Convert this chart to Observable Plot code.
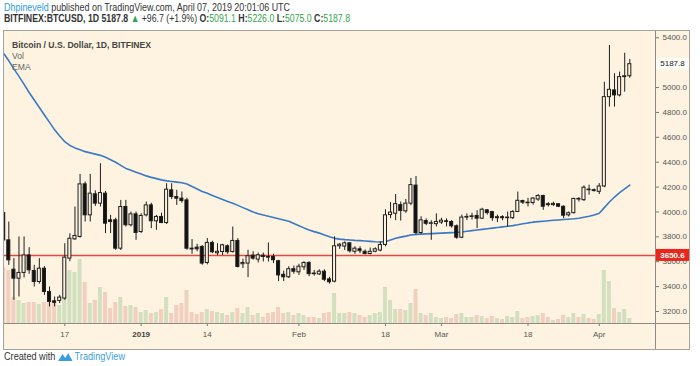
<!DOCTYPE html>
<html><head><meta charset="utf-8">
<script src="https://cdn.jsdelivr.net/npm/d3@7"></script>
<script src="https://cdn.jsdelivr.net/npm/@observablehq/plot@0.6"></script>
<style>
html,body{margin:0;padding:0;background:#fff;}
body{width:700px;height:366px;overflow:hidden;position:relative;font-family:"Liberation Sans",Arial,sans-serif;}
.hdr{position:absolute;left:4px;white-space:nowrap;color:#333;font-size:11px;line-height:12px;transform-origin:0 50%;}
#hdr1{top:1px;}
#hdr2{top:12px;}
.g{color:#35a44c;}
.blue{color:#2a9be0;}
#box{position:absolute;left:3px;top:30px;width:685px;height:318px;border:1px solid #a8a39a;background:#fdf3e0;overflow:hidden;}
#box svg{position:absolute;left:0;top:0;}
.sepv{position:absolute;top:0;width:1px;height:318px;background:#8f8a82;}
.seph{position:absolute;left:0;height:1px;width:685px;background:#8f8a82;}
#legend{position:absolute;left:8px;top:8px;font-size:9.5px;line-height:11px;color:#666;transform-origin:0 0;white-space:nowrap;}
#legend b{color:#444;}
#foot{position:absolute;left:4px;top:351px;font-size:10px;color:#333;white-space:nowrap;display:flex;align-items:center;transform-origin:0 50%;}
#foot .tv{color:#3a9fe0;margin-left:2px;}
</style>
</head><body>
<div id="hdr1" class="hdr"></div>
<div id="hdr2" class="hdr"></div>
<div id="box">
  <div id="legend"></div>
</div>
<div id="foot"><span>Created with</span>
<svg width="16" height="10" viewBox="0 0 16 10" style="margin-left:3px"><path d="M0 9 L5 2 L8 6 L11 1 L16 9 Z" fill="#3a9fe0"/></svg>
<span class="tv">TradingView</span></div>
<script>
// ---------- data (BITFINEX:BTCUSD, 1D, from 2018-12-05 to 2019-04-07) ----------
const startDate = "2018-12-05";
const endDate = "2019-04-07";
const open = [
  3990,3772,3536,3464,3510,3651,3526,3437,3544,3357,3282,3285,3304,3625,3780,3799,4222,3973,4142,4067,4147,3933,3933,3705,4040,3893,3981,
  3839,3973,4053,3925,3960,3911,4174,4120,4107,4093,3705,3713,3719,3590,3751,3668,3678,3724,3678,3767,3580,3585,3649,3617,3649,3638,3638,3604,3495,3475,3540,
  3515,3555,3590,3505,3498,3520,3458,3440,3724,3722,3748,3680,3700,3680,3662,3680,3690,3735,3975,3986,4055,4005,4067,4212,3831,3927,3905,3902,
  3915,3925,3920,3885,3793,3955,3960,3968,3946,4013,3999,3950,3958,3950,3950,4000,4088,4075,4072,4100,4128,4062,4055,4062,4042,3973,3990,4105,4095,4180,4175,
  4162,4205,4923,4977,4937,5084,5091.1];
const high = [
  4000,3919,3625,3799,3799,3713,3571,3625,3560,3397,3317,3330,3745,3825,4040,4302,4240,4302,4170,4388,4165,3973,3950,4093,4093,4000,4000,
  3986,4080,4070,3973,3990,4227,4227,4174,4160,4110,3778,3740,3730,3786,3765,3745,3740,3735,3879,3785,3620,3692,3680,3670,3670,3751,3660,3612,3525,3560,3565,
  3580,3600,3600,3530,3535,3535,3475,3800,3745,3760,3752,3720,3720,3695,3710,3712,3760,4018,4075,4140,4080,4100,4270,4285,3962,3945,3930,3985,
  3950,3945,3930,3895,3975,3985,3990,4010,4030,4020,4005,3975,3970,3999,4010,4160,4095,4110,4115,4140,4135,4075,4078,4068,4048,4000,4110,4115,4210,4215,4185,
  4228,5043,5338,5111,5124,5276,5226.0];
const low = [
  3760,3571,3290,3317,3470,3500,3397,3420,3330,3237,3237,3264,3290,3600,3772,3790,3919,3919,4045,4040,3826,3826,3692,3690,3879,3880,3772,
  3826,3960,3866,3853,3906,3900,4100,4053,4070,3692,3660,3680,3572,3575,3665,3650,3650,3660,3670,3550,3545,3472,3612,3590,3598,3598,3585,3440,3440,3465,3500,
  3490,3530,3480,3485,3490,3440,3420,3430,3700,3690,3670,3660,3665,3655,3655,3672,3680,3720,3946,3930,3927,3990,4050,3815,3820,3890,3772,3880,
  3900,3880,3870,3780,3785,3930,3935,3866,3940,3975,3925,3915,3930,3879,3940,3995,4060,4040,4055,4085,4013,4040,4045,4035,3946,3960,3985,4080,4085,4135,4160,
  4140,4195,4843,4843,4925,4963,5075.0];
const close = [
  3772,3611,3464,3510,3651,3531,3437,3544,3357,3277,3269,3312,3633,3785,3807,4222,3973,4147,4067,4152,3906,3919,3705,4040,3893,3981,3831,
  3968,4053,3925,3960,3911,4179,4120,4107,4088,3705,3699,3700,3585,3751,3676,3680,3732,3676,3767,3558,3590,3644,3625,3652,3638,3633,3612,3490,3475,3540,3520,
  3560,3590,3500,3500,3520,3455,3435,3724,3737,3748,3684,3705,3685,3662,3680,3700,3735,3973,3995,4063,4008,4067,4216,3831,3933,3905,3910,3920,
  3930,3920,3885,3793,3955,3960,3965,3946,4018,3991,3950,3958,3950,3955,4000,4090,4075,4070,4108,4128,4042,4055,4065,4042,3970,3990,4105,4100,4195,4175,4168,
  4205,4923,4982,4937,5084,5091.1,5187.8];
const volume = [
  56,53,26,23,20,21,21,19,21,23,20,18,26,53,51,64,41,20,23,36,31,15,21,26,17,18,16,
  11,13,10,11,14,26,10,18,20,33,11,9,11,14,12,11,10,8,11,15,10,16,8,10,6,10,11,16,10,11,8,
  10,8,6,6,5,10,11,30,10,10,11,10,8,6,8,10,11,36,23,14,14,13,20,34,10,8,10,6,
  5,6,5,9,10,6,6,8,7,5,7,5,4,7,6,12,5,6,7,8,10,6,3,4,8,6,10,6,9,5,4,
  9,53,42,15,11,14,5];
const ema = [
  5275,5215,5150,5090,5025,4960,4900,4840,4780,4720,4660,4610,4565,4535,4515,4500,4485,4475,4465,4455,4440,4420,4400,4375,4350,4335,4320,
  4305,4290,4278,4268,4258,4250,4245,4240,4235,4225,4205,4185,4165,4150,4133,4117,4100,4085,4070,4053,4035,4018,4000,3985,3975,3965,3955,3945,3935,3925,3908,
  3890,3872,3856,3842,3830,3815,3800,3788,3782,3778,3775,3772,3770,3767,3764,3761,3759,3762,3775,3788,3798,3806,3815,3820,3822,3824,3826,3828,
  3830,3832,3834,3836,3839,3845,3850,3855,3860,3865,3870,3875,3880,3885,3890,3897,3905,3912,3918,3922,3926,3930,3933,3936,3939,3942,3945,3950,3958,3966,3975,
  3990,4035,4080,4120,4155,4185,4215];
const levelPrice = 3650.6;
const tickDates = ["2018-12-17","2019-01-01","2019-01-14","2019-02-01","2019-02-18","2019-03-01","2019-03-18","2019-04-01"];
const tickLabels = ["17","2019","14","Feb","18","Mar","18","Apr"];
// 5200.0 sits under the last-price tag in the reference, so only its tick mark shows
const yTicks = [3200,3400,3600,3800,4000,4200,4400,4600,4800,5000,5200,5400];
const yHiddenLabels = [5200];
const xView = ["2018-12-05T03:43Z","2019-04-12T01:12Z"];
const yView = [3103.5, 5450.6];

// ---------- build ----------
const DAY = 864e5;
const dates = d3.utcDay.range(new Date(startDate), d3.utcDay.offset(new Date(endDate), 1));
const rows = dates.map((d, i) => ({date: d, open: open[i], high: high[i], low: low[i], close: close[i], volume: volume[i], ema: ema[i], up: close[i] >= open[i]}));
const last = rows[rows.length - 1], prev = rows[rows.length - 2];
const chg = last.close - prev.close;
const fmt = v => v.toFixed(1);

document.getElementById("hdr1").innerHTML = '<span class="blue">Dhpineveld</span> published on TradingView.com, April 07, 2019 20:01:06 UTC';
document.getElementById("hdr2").innerHTML =
  `<b>BITFINEX:BTCUSD, 1D</b> <b>${fmt(last.close)}</b> <span class="g">&#9650;</span> ${chg >= 0 ? "+" : ""}${fmt(chg)} (${chg >= 0 ? "+" : ""}${(chg / prev.close * 100).toFixed(1)}%) ` +
  `<b>O:</b><span class="g">${fmt(last.open)}</span> <b>H:</b><span class="g">${fmt(last.high)}</span> <b>L:</b><span class="g">${fmt(last.low)}</span> <b>C:</b><span class="g">${fmt(last.close)}</span>`;
document.getElementById("legend").innerHTML = "<b>Bitcoin / U.S. Dollar, 1D, BITFINEX</b><br>Vol<br>EMA";

// condense the text blocks to the reference's narrow typeface widths
function fitWidth(id, target) {
  const el = document.getElementById(id);
  const w = el.getBoundingClientRect().width;
  if (w > 0) el.style.transform = `scaleX(${target / w})`;
}
fitWidth("hdr1", 286);
fitWidth("hdr2", 346);
fitWidth("legend", 139);
fitWidth("foot", 121);

const W = 685, H = 318, mR = 34, mB = 26;
const xDomain = xView.map(s => new Date(s));
const tickMap = new Map(tickDates.map((s, i) => [+new Date(s), tickLabels[i]]));
const common = {width: W, height: H, marginLeft: 0, marginTop: 0, marginRight: mR, marginBottom: mB};

const vol = Plot.plot({
  ...common,
  style: {background: "transparent"},
  x: {type: "utc", domain: xDomain, axis: null},
  y: {domain: [0, 292], axis: null},
  color: {type: "identity"},
  marks: [
    Plot.rectY(rows, {x1: d => new Date(+d.date - 0.4 * DAY), x2: d => new Date(+d.date + 0.4 * DAY), y: "volume",
      fill: d => d.up ? "#d3e0c0" : "#f1d0bf", clip: true})
  ]
});

const price = Plot.plot({
  ...common,
  style: {background: "transparent", fontFamily: "'Liberation Sans', Arial, sans-serif", fontSize: "8px", color: "#555"},
  x: {type: "utc", domain: xDomain},
  y: {domain: yView},
  color: {type: "identity"},
  marks: [
    Plot.ruleY([levelPrice], {stroke: "#e5473d", strokeWidth: 1.6, clip: true}),
    Plot.line(rows, {x: "date", y: "ema", stroke: "#3a79c4", strokeWidth: 1.6, clip: true}),
    Plot.ruleX(rows, {x: "date", y1: "low", y2: "high", stroke: "#1e1e1e", strokeWidth: 1, clip: true}),
    Plot.rect(rows, {x1: d => new Date(+d.date - 0.3 * DAY), x2: d => new Date(+d.date + 0.3 * DAY), y1: "open", y2: "close",
      fill: d => d.up ? "#fdf3e0" : "#111", stroke: "#1e1e1e", strokeWidth: 1, clip: true}),
    Plot.axisY({anchor: "right", ticks: yTicks, text: null, tickSize: 3, stroke: "#777"}),
    Plot.axisY({anchor: "right", ticks: yTicks.filter(t => !yHiddenLabels.includes(t)), tickFormat: fmt, tickSize: 0, tickPadding: 7, label: null, fill: "#555"}),
    Plot.axisX({ticks: tickDates.map(s => new Date(s)), tickFormat: d => tickMap.get(+d), tickSize: 3, tickPadding: 5, label: null, fill: "#555", stroke: "#777"})
  ]
});

const box = document.getElementById("box");
box.insertBefore(vol, box.firstChild);
box.insertBefore(price, vol.nextSibling);

// bold year label
d3.select(price).selectAll("text").filter(function () { return this.textContent === "2019"; }).attr("font-weight", "bold").attr("fill", "#444");

// separators at the plot edges
const xs = price.scale("x"), ys = price.scale("y");
const sv = document.createElement("div"); sv.className = "sepv"; sv.style.left = xs.range[1] + "px"; box.appendChild(sv);
const sh = document.createElement("div"); sh.className = "seph"; sh.style.top = ys.range[0] + "px"; box.appendChild(sh);

// price tags on the right axis
const svg = d3.select(price);
function tag(v, bg, fg, bold) {
  const yy = ys.apply(v), x0 = xs.range[1] + 1;
  const g = svg.append("g");
  g.append("rect").attr("x", x0).attr("y", yy - 6).attr("width", W - x0).attr("height", 12).attr("fill", bg);
  g.append("text").attr("x", x0 + (W - x0) / 2).attr("y", yy).attr("dy", "0.35em").attr("text-anchor", "middle")
    .attr("fill", fg).attr("font-size", 8).attr("font-weight", bold ? "bold" : "normal").text(fmt(v));
}
tag(last.close, "#fffdf8", "#222", false);
tag(levelPrice, "#e8261c", "#fff", true);
</script>
</body></html>
